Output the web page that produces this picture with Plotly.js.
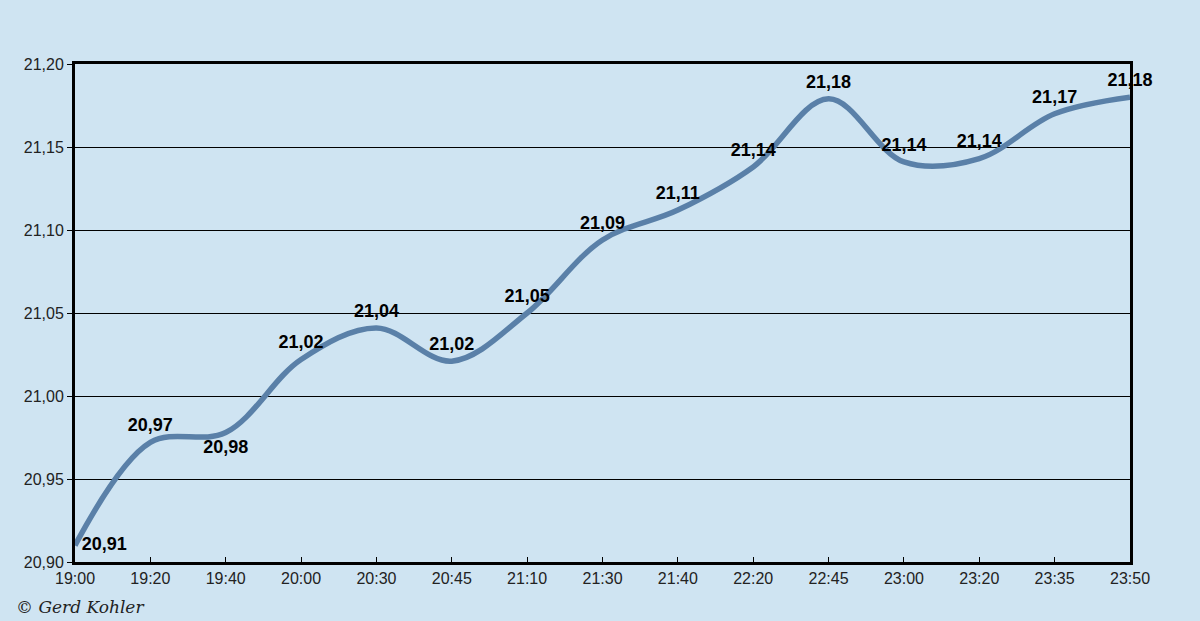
<!DOCTYPE html>
<html>
<head>
<meta charset="utf-8">
<script src="https://cdn.plot.ly/plotly-3.0.1.min.js"></script>
<style>
  html, body { margin: 0; padding: 0; background: #cfe4f2; }
  #chart { width: 1200px; height: 621px; }
</style>
</head>
<body>
<div id="chart"></div>
<script>
// times of the readings (equally spaced on the axis)
const times = ['19:00', '19:20', '19:40', '20:00', '20:30', '20:45', '21:10', '21:30',
    '21:40', '22:20', '22:45', '23:00', '23:20', '23:35', '23:50'];
// measured values
const values = [20.91, 20.972, 20.978, 21.022, 21.041, 21.021, 21.05, 21.094,
    21.112, 21.138, 21.179, 21.141, 21.143, 21.17, 21.18];
// where each value label sits
const labelPos = ['middle right', 'top center', 'bottom center', 'top center', 'top center',
    'top center', 'top center', 'top center', 'top center', 'top center', 'top center',
    'top center', 'top center', 'top center', 'top center'];

const trace = {
    x: times,
    y: values,
    type: 'scatter',
    mode: 'lines+markers+text',
    line: { shape: 'spline', smoothing: 1, color: '#5a80a8', width: 5.5 },
    // invisible markers, only used to push the labels off the line
    marker: { size: 9, color: 'rgba(0,0,0,0)' },
    texttemplate: '%{y:.2f}',
    textposition: labelPos,
    textfont: { family: 'Liberation Sans, Arial, sans-serif', size: 18, color: '#000', weight: 'bold' },
    cliponaxis: false,
    hoverinfo: 'skip'
};

const layout = {
    width: 1200,
    height: 621,
    paper_bgcolor: '#cfe4f2',
    plot_bgcolor: '#cfe4f2',
    separators: ',.',
    showlegend: false,
    margin: { l: 75, r: 70, t: 64, b: 59 },
    font: { family: 'Liberation Sans, Arial, sans-serif', size: 16, color: '#222' },
    xaxis: {
        type: 'category',
        range: [0, 14],
        showgrid: false,
        showline: true,
        linecolor: '#000',
        linewidth: 3,
        mirror: true,
        ticks: 'inside',
        ticklen: 5,
        tickcolor: '#000',
        tickwidth: 1,
        tickfont: { size: 16, color: '#222' }
    },
    yaxis: {
        range: [20.9, 21.2],
        dtick: 0.05,
        tickformat: '.2f',
        showgrid: true,
        gridcolor: '#000',
        gridwidth: 1,
        zeroline: false,
        showline: true,
        linecolor: '#000',
        linewidth: 3,
        mirror: true,
        ticks: 'outside',
        ticklen: 5,
        tickcolor: '#000',
        tickwidth: 1,
        tickfont: { size: 16, color: '#222' }
    },
    annotations: [{
        xref: 'paper', yref: 'paper',
        x: -0.058, y: -0.09,
        xanchor: 'left', yanchor: 'middle',
        showarrow: false,
        text: '<i>© Gerd Kohler</i>',
        font: { family: 'DejaVu Serif, serif', size: 17, color: '#222' }
    }]
};

Plotly.newPlot('chart', [trace], layout, { displayModeBar: false, staticPlot: true });
</script>
</body>
</html>
